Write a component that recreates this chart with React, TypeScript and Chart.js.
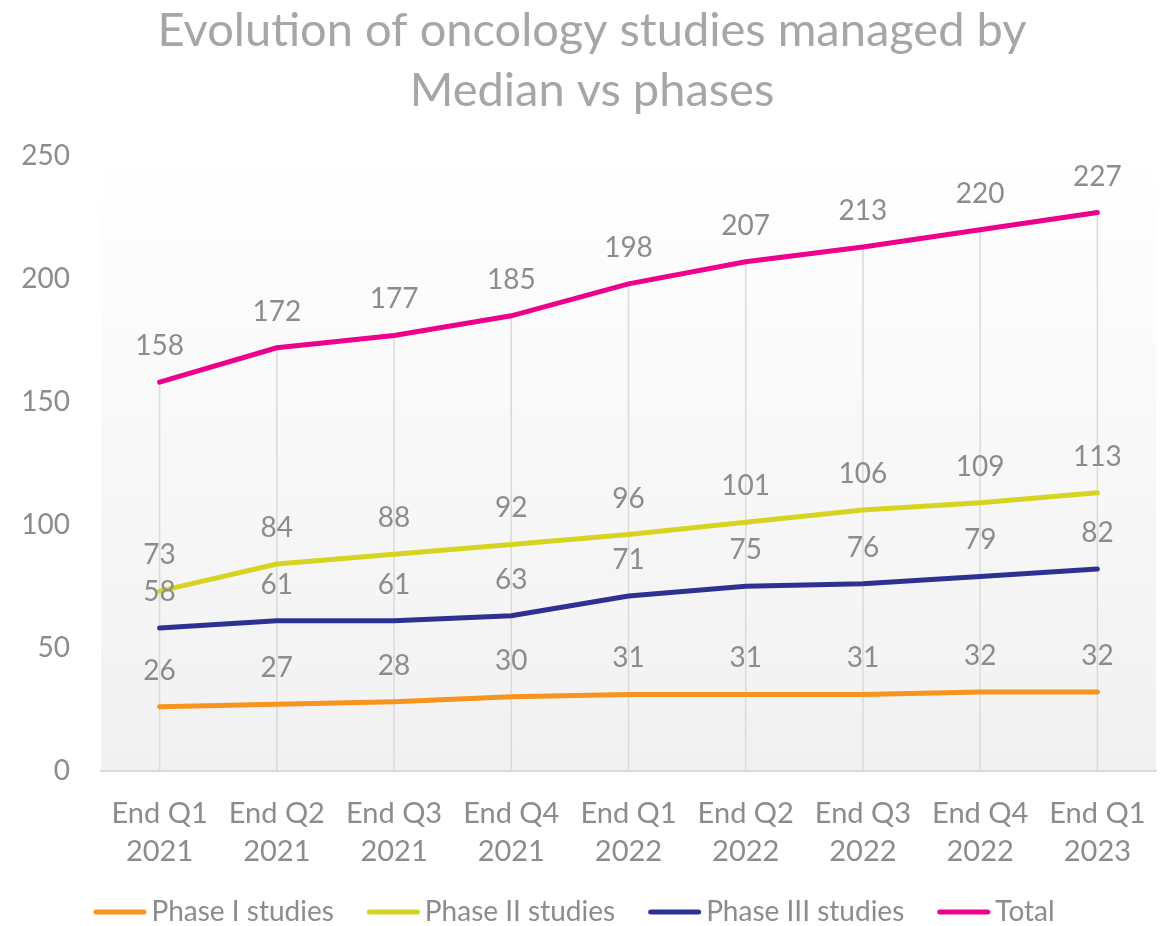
import React, { useEffect, useRef } from "react";
import { Chart, registerables } from "chart.js";

Chart.register(...registerables);

const categories: string[][] = [
  ["End Q1", "2021"], ["End Q2", "2021"], ["End Q3", "2021"], ["End Q4", "2021"],
  ["End Q1", "2022"], ["End Q2", "2022"], ["End Q3", "2022"], ["End Q4", "2022"],
  ["End Q1", "2023"],
];
const phase1: number[] = [26, 27, 28, 30, 31, 31, 31, 32, 32];
const phase2: number[] = [73, 84, 88, 92, 96, 101, 106, 109, 113];
const phase3: number[] = [58, 61, 61, 63, 71, 75, 76, 79, 82];
const total: number[] = [158, 172, 177, 185, 198, 207, 213, 220, 227];
const titleLines: string[] = ["Evolution of oncology studies managed by", "Median vs phases"];

const FONT = "Lato, 'Open Sans', sans-serif";
const GRAY = "#8c8c8c";

const bgPlugin = {
  id: "bgPlugin",
  beforeDraw(chart: any) {
    const { ctx, chartArea } = chart;
    if (!chartArea) return;
    const g = ctx.createLinearGradient(0, chartArea.top, 0, chartArea.bottom);
    g.addColorStop(0, "#ffffff");
    g.addColorStop(0.12, "#fdfdfd");
    g.addColorStop(1, "#f1f1f1");
    ctx.save();
    ctx.fillStyle = g;
    ctx.fillRect(chartArea.left, chartArea.top, chartArea.right - chartArea.left, chartArea.bottom - chartArea.top);
    ctx.restore();
  },
  beforeDatasetsDraw(chart: any) {
    // drop lines from the highest series down to the axis
    const { ctx, chartArea } = chart;
    const meta = chart.getDatasetMeta(chart.data.datasets.length - 1);
    ctx.save();
    ctx.strokeStyle = "#dadada";
    ctx.lineWidth = 1.5;
    meta.data.forEach((pt: any) => {
      ctx.beginPath();
      ctx.moveTo(pt.x, pt.y);
      ctx.lineTo(pt.x, chartArea.bottom);
      ctx.stroke();
    });
    ctx.restore();
  },
};

const titlePlugin = {
  id: "customTitle",
  afterDraw(chart: any) {
    const { ctx } = chart;
    ctx.save();
    ctx.font = `47px ${FONT}`;
    ctx.fillStyle = "#a6a6a6";
    ctx.textAlign = "center";
    ctx.textBaseline = "middle";
    titleLines.forEach((line, i) => ctx.fillText(line, 592, 31 + i * 60));
    ctx.restore();
  },
};

const labelPlugin = {
  id: "labelPlugin",
  afterDatasetsDraw(chart: any) {
    const { ctx } = chart;
    ctx.save();
    ctx.font = `28px ${FONT}`;
    ctx.fillStyle = GRAY;
    ctx.textAlign = "center";
    ctx.textBaseline = "middle";
    chart.data.datasets.forEach((ds: any, i: number) => {
      const meta = chart.getDatasetMeta(i);
      meta.data.forEach((pt: any, j: number) => {
        ctx.fillText(String(ds.data[j]), pt.x, pt.y - 36);
      });
    });
    ctx.restore();
  },
};

const legendPlugin = {
  id: "customLegend",
  afterDraw(chart: any) {
    const { ctx, height } = chart;
    const markerW = 53;
    const markerGap = 5;
    const itemGap = 33;
    ctx.save();
    ctx.font = `28px ${FONT}`;
    const items = chart.data.datasets.map((ds: any) => ({
      label: ds.label,
      color: ds.borderColor,
      w: markerW + markerGap + ctx.measureText(ds.label).width,
    }));
    const totalW = items.reduce((s: number, it: any) => s + it.w, 0) + itemGap * (items.length - 1);
    let x = 574 - totalW / 2;
    const y = height - 14;
    ctx.textBaseline = "middle";
    ctx.textAlign = "left";
    items.forEach((it: any) => {
      ctx.strokeStyle = it.color;
      ctx.lineWidth = 5;
      ctx.lineCap = "round";
      ctx.beginPath();
      ctx.moveTo(x + 2.5, y);
      ctx.lineTo(x + markerW - 2.5, y);
      ctx.stroke();
      ctx.fillStyle = GRAY;
      ctx.fillText(it.label, x + markerW + markerGap, y);
      x += it.w + itemGap;
    });
    ctx.restore();
  },
};

export default function App() {
  const ref = useRef<HTMLCanvasElement>(null);
  useEffect(() => {
    document.body.style.margin = "0";
    if (!ref.current) return;
    const mk = (label: string, data: number[], color: string) => ({
      label,
      data,
      borderColor: color,
      backgroundColor: color,
      borderWidth: 5,
      pointRadius: 0,
      tension: 0,
      borderCapStyle: "round" as const,
    });
    const chart = new Chart(ref.current, {
      type: "line",
      data: {
        labels: categories,
        datasets: [
          mk("Phase I studies", phase1, "#f7941d"),
          mk("Phase II studies", phase2, "#d6d420"),
          mk("Phase III studies", phase3, "#2e3192"),
          mk("Total", total, "#ec008c"),
        ],
      },
      options: {
        animation: false,
        responsive: false,
        layout: { padding: { left: 10, right: 17, top: 156, bottom: 32 } },
        plugins: {
          title: { display: false },
          legend: { display: false },
          tooltip: { enabled: false },
        },
        scales: {
          x: {
            offset: true,
            grid: { display: false, drawTicks: false },
            border: { color: "#d9d9d9", width: 2 },
            ticks: { color: GRAY, font: { family: FONT, size: 29, lineHeight: 1.3 }, padding: 24, maxRotation: 0 },
          },
          y: {
            min: 0,
            max: 250,
            grid: { display: false, drawTicks: false },
            border: { display: false },
            ticks: { stepSize: 50, color: GRAY, font: { family: FONT, size: 28 }, padding: 31 },
            afterFit(scale: any) {
              scale.width = 91;
            },
          },
        },
      },
      plugins: [bgPlugin, labelPlugin, titlePlugin, legendPlugin],
    });
    return () => chart.destroy();
  }, []);
  return (
    <div style={{ width: 1173, height: 926 }}>
      <canvas ref={ref} width={1173} height={926} style={{ display: "block" }} />
    </div>
  );
}
